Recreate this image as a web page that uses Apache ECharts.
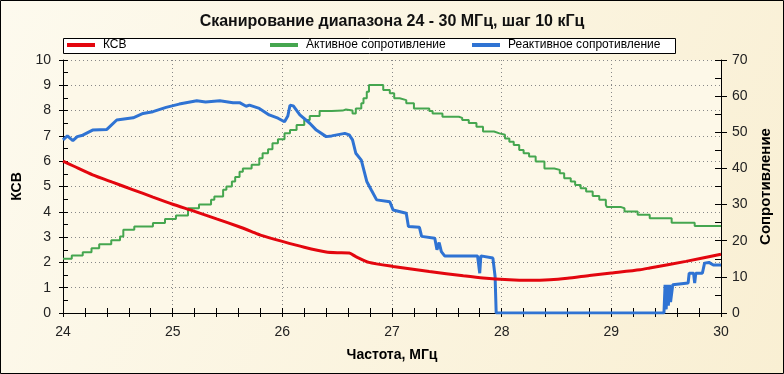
<!DOCTYPE html>
<html><head><meta charset="utf-8">
<script src="https://cdn.jsdelivr.net/npm/echarts@6/dist/echarts.min.js"></script>
<style>html,body{margin:0;padding:0;background:#fff}#c{width:784px;height:374px}</style>
</head><body><div id="c"></div>
<script>
// ---- Data ----
const titleText = 'Сканирование диапазона 24 - 30 МГц, шаг 10 кГц';
const seriesNames = ['КСВ', 'Активное сопротивление', 'Реактивное сопротивление'];
const xName = 'Частота, МГц';
const yLeftName = 'КСВ';
const yRightName = 'Сопротивление';

const ksvFreq = [24.0,24.1,24.27,24.45,24.64,24.82,25.0,25.2,25.4,25.6,25.72,25.8,26.0,26.2,26.4,26.5,26.61,26.67,26.79,27.01,27.34,27.65,27.83,28.07,28.25,28.44,28.6,28.8,29.0,29.26,29.35,29.68,30.0];
const ksvVals = [6.0,5.8,5.46,5.17,4.87,4.58,4.3,4.02,3.72,3.42,3.22,3.08,2.83,2.6,2.41,2.38,2.37,2.23,2.0,1.84,1.64,1.47,1.38,1.31,1.29,1.31,1.37,1.48,1.58,1.71,1.78,2.04,2.32];

const actFreq = [24.0,24.08,24.18,24.26,24.33,24.44,24.52,24.55,24.65,24.82,24.93,25.03,25.14,25.24,25.35,25.38,25.46,25.49,25.54,25.57,25.61,25.64,25.72,25.79,25.82,25.87,25.91,25.96,26.02,26.07,26.13,26.2,26.25,26.34,26.45,26.55,26.58,26.64,26.67,26.72,26.74,26.77,26.79,26.89,26.92,26.98,27.02,27.07,27.13,27.2,27.34,27.37,27.46,27.61,27.64,27.7,27.77,27.83,27.93,27.98,28.03,28.07,28.11,28.16,28.2,28.25,28.31,28.39,28.48,28.53,28.57,28.63,28.67,28.72,28.77,28.83,28.89,28.95,28.96,29.09,29.12,29.24,29.35,29.55,29.76,30.0];
const actVals = [15.0,15.9,16.8,17.9,19.0,20.1,21.2,23.0,23.9,24.9,26.0,27.0,29.0,30.0,31.3,32.2,34.1,35.0,36.4,37.6,39.1,40.0,41.0,42.8,44.2,45.3,47.0,48.1,49.7,50.6,52.0,53.4,54.5,55.9,56.0,56.3,56.0,55.2,56.6,58.0,59.4,61.2,63.1,63.1,61.7,60.8,59.4,58.9,58.0,56.6,55.9,55.2,54.3,54.0,53.4,52.6,51.5,50.2,49.7,49.3,48.3,47.4,46.5,45.1,44.2,43.3,41.9,40.0,39.6,38.7,37.3,36.4,35.4,34.5,33.6,32.4,31.3,29.9,29.3,29.0,28.1,27.2,26.2,25.0,24.1,24.1];

const reactFreq = [24.0,24.04,24.09,24.13,24.18,24.27,24.4,24.49,24.64,24.73,24.82,24.94,25.06,25.22,25.3,25.43,25.55,25.61,25.67,25.7,25.79,25.88,25.96,26.02,26.05,26.07,26.1,26.16,26.25,26.31,26.4,26.45,26.57,26.61,26.64,26.67,26.72,26.77,26.81,26.86,26.98,27.01,27.13,27.15,27.25,27.27,27.39,27.41,27.43,27.45,27.48,27.78,27.8,27.81,27.92,27.94,27.95,29.48,29.49,29.5,29.51,29.52,29.53,29.54,29.56,29.7,29.71,29.75,29.76,29.77,29.83,29.85,29.89,29.93,30.0];
const reactVals = [47.9,49.0,47.7,48.8,49.2,50.6,50.8,53.4,54.0,55.2,55.7,56.9,57.8,58.7,58.4,58.7,58.2,58.2,57.2,57.5,56.6,54.8,53.9,52.9,54.5,57.5,57.3,54.8,52.5,50.6,48.8,49.0,49.7,49.3,47.9,44.2,42.3,36.4,34.1,31.3,30.8,28.5,27.6,23.9,23.7,21.2,20.7,17.5,19.5,17.0,15.8,15.8,11.0,15.8,15.2,10.1,0,0,7.8,1.0,7.8,2.0,7.8,3.0,7.8,8.3,11.0,11.0,8.3,11.0,11.0,13.8,14.0,13.3,13.3];

const xTicks = {min: 24, max: 30, interval: 1};
const yLeftTicks = {min: 0, max: 10, interval: 1};
const yRightTicks = {min: 0, max: 70, interval: 10};

// ---- Build ----
const zip = (a, b) => a.map((v, i) => [v, b[i]]);
const FONT = "'Liberation Sans', Arial, sans-serif";
const black = '#000';

const chart = echarts.init(document.getElementById('c'), null, {renderer: 'canvas'});
const hidden = {show: false};
const option = {
  animation: false,
  backgroundColor: {type: 'linear', x: 0, y: 0, x2: 1, y2: 1,
    colorStops: [{offset: 0, color: '#FDFAEE'}, {offset: 1, color: '#F9EFD3'}]},
  textStyle: {fontFamily: FONT},
  title: {text: titleText, left: 'center', top: 9,
    textStyle: {fontSize: 16, fontWeight: 'bold', color: '#111', fontFamily: FONT}},
  graphic: [
    {type: 'rect', z: 0, shape: {x: 0.5, y: 0.5, width: 783, height: 373}, style: {fill: 'none', stroke: '#000', lineWidth: 1}},
    {type: 'rect', z: 1, shape: {x: 63.5, y: 38.5, width: 612, height: 15}, style: {fill: '#fff', stroke: '#000', lineWidth: 1}}
  ],
  legend: [
    {data: [seriesNames[0]], left: 67, top: 39, padding: 0},
    {data: [seriesNames[1]], left: 270, top: 39, padding: 0},
    {data: [seriesNames[2]], left: 472, top: 39, padding: 0}
  ].map(l => Object.assign(l, {icon: 'rect', itemWidth: 28, itemHeight: 4, z: 5,
    textStyle: {fontSize: 12, color: '#000', fontFamily: FONT, padding: [0, 0, 0, 3]}})),
  grid: {left: 63, right: 63, top: 60, bottom: 61, show: true, backgroundColor: '#FDF8E8', borderWidth: 0},
  xAxis: [
    Object.assign({type: 'value', position: 'bottom', name: xName, nameLocation: 'middle', nameGap: 35,
      nameTextStyle: {fontSize: 14, fontWeight: 'bold', color: '#000', fontFamily: FONT},
      axisLine: {show: true, lineStyle: {color: black, width: 1}},
      axisTick: {show: true, inside: false, length: 4, lineStyle: {color: black}},
      axisLabel: {fontSize: 14, color: '#222', margin: 12, fontFamily: FONT},
      splitLine: {show: true, lineStyle: {color: '#888', type: [1, 3]}}}, xTicks),
    Object.assign({type: 'value', position: 'bottom', axisLine: hidden, axisLabel: hidden, splitLine: hidden,
      axisTick: {show: true, inside: true, length: 5, lineStyle: {color: black}},
      minorTick: {show: true, splitNumber: 5, length: 5, lineStyle: {color: black}}}, xTicks),
    {type: 'value', position: 'top', min: 24, max: 30, interval: 0.2, axisLabel: hidden, splitLine: hidden,
      axisLine: {show: true, lineStyle: {color: black}},
      axisTick: {show: true, inside: true, length: 4, lineStyle: {color: black}}}
  ],
  yAxis: [
    Object.assign({type: 'value', position: 'left', name: yLeftName, nameLocation: 'middle', nameGap: 38, nameRotate: 90,
      nameTextStyle: {fontSize: 14, fontWeight: 'bold', color: '#000', fontFamily: FONT},
      axisLine: {show: true, lineStyle: {color: black}},
      axisTick: {show: true, inside: false, length: 4, lineStyle: {color: black}},
      axisLabel: {fontSize: 14, color: '#222', margin: 12, fontFamily: FONT},
      splitLine: {show: true, lineStyle: {color: '#888', type: [1, 3]}}}, yLeftTicks),
    Object.assign({type: 'value', position: 'left', axisLine: hidden, axisLabel: hidden, splitLine: hidden,
      axisTick: {show: true, inside: true, length: 5, lineStyle: {color: black}},
      minorTick: {show: true, splitNumber: 2, length: 5, lineStyle: {color: black}}}, yLeftTicks),
    Object.assign({type: 'value', position: 'right', name: yRightName, nameLocation: 'middle', nameGap: 34, nameRotate: 90,
      nameTextStyle: {fontSize: 15, fontWeight: 'bold', color: '#000', fontFamily: FONT},
      axisLine: {show: true, lineStyle: {color: black}},
      axisTick: {show: true, inside: false, length: 6, lineStyle: {color: black}},
      axisLabel: {fontSize: 14, color: '#222', margin: 11, fontFamily: FONT},
      splitLine: hidden}, yRightTicks),
    Object.assign({type: 'value', position: 'right', axisLine: hidden, axisLabel: hidden, splitLine: hidden,
      axisTick: {show: true, inside: true, length: 6, lineStyle: {color: black}},
      minorTick: {show: true, splitNumber: 2, length: 6, lineStyle: {color: black}}}, yRightTicks)
  ],
  series: [
    {name: seriesNames[1], type: 'line', xAxisIndex: 0, yAxisIndex: 2, step: 'end', showSymbol: false,
      data: zip(actFreq, actVals), color: '#45A64F', lineStyle: {width: 2, color: '#45A64F'}, z: 2},
    {name: seriesNames[2], type: 'line', xAxisIndex: 0, yAxisIndex: 2, showSymbol: false,
      data: zip(reactFreq, reactVals), color: '#2F73D3', lineStyle: {width: 3, color: '#2F73D3'}, z: 3},
    {name: seriesNames[0], type: 'line', xAxisIndex: 0, yAxisIndex: 0, showSymbol: false, smooth: 0.2,
      data: zip(ksvFreq, ksvVals), color: '#E3060E', lineStyle: {width: 3, color: '#E3060E'}, z: 4}
  ]
};
chart.setOption(option);
</script></body></html>
